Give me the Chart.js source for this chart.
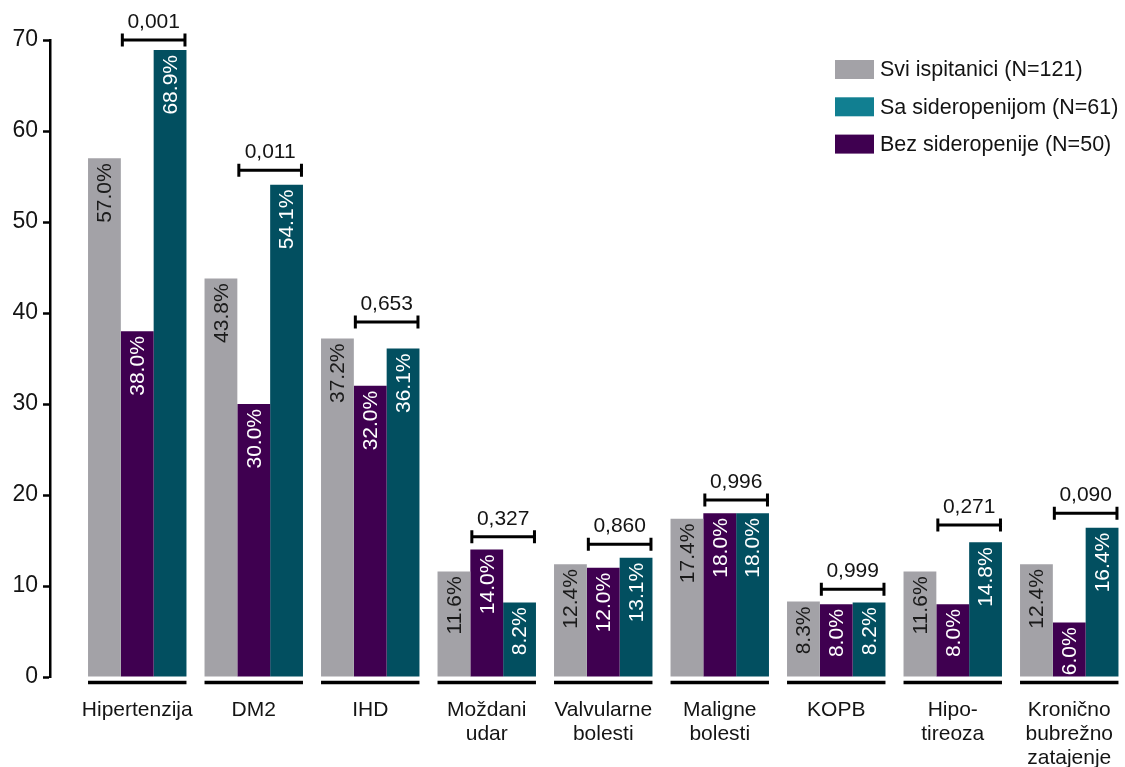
<!DOCTYPE html>
<html>
<head>
<meta charset="utf-8">
<script src="https://cdn.jsdelivr.net/npm/chart.js@4/dist/chart.umd.min.js"></script>
<style>
html,body{margin:0;padding:0;background:#fff;}
#wrap{width:1125px;height:767px;}
</style>
</head>
<body>
<div id="wrap"><canvas id="c" width="1125" height="767"></canvas></div>
<script>
const categories = [
  'Hipertenzija', 'DM2', 'IHD', ['Moždani', 'udar'], ['Valvularne', 'bolesti'],
  ['Maligne', 'bolesti'], 'KOPB', ['Hipo-', 'tireoza'], ['Kronično', 'bubrežno', 'zatajenje']
];
const sviValues = [57.0, 43.8, 37.2, 11.6, 12.4, 17.4, 8.3, 11.6, 12.4];
const bezValues = [38.0, 30.0, 32.0, 14.0, 12.0, 18.0, 8.0, 8.0, 6.0];
const saValues  = [68.9, 54.1, 36.1, 8.2, 13.1, 18.0, 8.2, 14.8, 16.4];
const pValues = ['0,001', '0,011', '0,653', '0,327', '0,860', '0,996', '0,999', '0,271', '0,090'];
const bracketLevels = [70.0, 55.7, 39.0, 15.4, 14.6, 19.45, 9.64, 16.7, 18.0];
const yTicks = [0, 10, 20, 30, 40, 50, 60, 70];

const FONT = '"Liberation Sans", Arial, Helvetica, sans-serif';
const TXT = '#141414';

const datasets = [
  { label: 'Svi ispitanici (N=121)', data: sviValues, backgroundColor: '#a3a2a7', legendColor: '#a3a2a7', labelColor: '#1a1a1a', legendRank: 0 },
  { label: 'Bez sideropenije (N=50)', data: bezValues, backgroundColor: '#3f0050', legendColor: '#3f0050', labelColor: '#ffffff', legendRank: 2 },
  { label: 'Sa sideropenijom (N=61)', data: saValues, backgroundColor: '#024f60', legendColor: '#117f91', labelColor: '#ffffff', legendRank: 1 }
];

const layoutFix = {
  id: 'layoutFix',
  afterLayout(chart) {
    const x = chart.scales.x;
    x.left = 79;
    x.right = 1127.5;
    x.width = x.right - x.left;
    x.configure();
  }
};

const decorations = {
  id: 'decorations',
  afterDatasetsDraw(chart) {
    const ctx = chart.ctx;
    const y = chart.scales.y;
    const metas = chart.data.datasets.map((d, i) => chart.getDatasetMeta(i));
    ctx.save();
    // value labels
    metas.forEach((meta, di) => {
      const ds = chart.data.datasets[di];
      meta.data.forEach((bar, i) => {
        const v = ds.data[i];
        ctx.save();
        ctx.translate(bar.x, bar.y + 5);
        ctx.rotate(-Math.PI / 2);
        ctx.font = '21px ' + FONT;
        ctx.fillStyle = ds.labelColor;
        ctx.textAlign = 'right';
        ctx.textBaseline = 'middle';
        ctx.fillText(v.toFixed(1) + '%', 0, 1);
        ctx.restore();
      });
    });
    // underlines and brackets
    categories.forEach((c, i) => {
      const first = metas[0].data[i];
      const mid = metas[1].data[i];
      const last = metas[2].data[i];
      const l = first.x - first.width / 2;
      const r = last.x + last.width / 2;
      ctx.strokeStyle = '#000';
      ctx.lineWidth = 3.5;
      ctx.beginPath();
      ctx.moveTo(l, 682.5);
      ctx.lineTo(r, 682.5);
      ctx.stroke();
      // bracket
      const bl = mid.x - mid.width / 2;
      const br = r;
      const by = y.getPixelForValue(bracketLevels[i]);
      ctx.lineWidth = 3;
      ctx.beginPath();
      ctx.moveTo(bl, by); ctx.lineTo(br, by);
      ctx.moveTo(bl + 1.5, by - 6.5); ctx.lineTo(bl + 1.5, by + 6.5);
      ctx.moveTo(br - 1.5, by - 6.5); ctx.lineTo(br - 1.5, by + 6.5);
      ctx.stroke();
      ctx.font = '21px ' + FONT;
      ctx.fillStyle = TXT;
      ctx.textAlign = 'center';
      ctx.textBaseline = 'alphabetic';
      ctx.fillText(pValues[i], (bl + br) / 2, by - 12);
    });
    // legend
    const order = chart.data.datasets.map((d, i) => i).sort((a, b) => chart.data.datasets[a].legendRank - chart.data.datasets[b].legendRank);
    order.forEach((di, row) => {
      const ds = chart.data.datasets[di];
      const cy = 69.5 + row * 37.3;
      ctx.fillStyle = ds.legendColor;
      ctx.fillRect(835, cy - 9.5, 39, 19);
      ctx.fillStyle = TXT;
      ctx.font = '21.5px ' + FONT;
      ctx.textAlign = 'left';
      ctx.textBaseline = 'middle';
      ctx.fillText(ds.label, 880, cy + 1);
    });
    ctx.restore();
  }
};

new Chart(document.getElementById('c'), {
  type: 'bar',
  data: { labels: categories, datasets: datasets },
  options: {
    responsive: false,
    animation: false,
    devicePixelRatio: 1,
    layout: { padding: { top: 40, left: 0, right: 0, bottom: 0 } },
    plugins: { legend: { display: false }, tooltip: { enabled: false } },
    datasets: { bar: { categoryPercentage: 0.845, barPercentage: 1.0, borderWidth: 0 } },
    scales: {
      x: {
        offset: true,
        grid: { display: false },
        border: { display: false },
        ticks: { autoSkip: false, maxRotation: 0, minRotation: 0, padding: 13, color: TXT, font: { family: FONT, size: 21, lineHeight: 1.15 } },
        afterFit(s) { s.height = 90; }
      },
      y: {
        min: 0, max: 70,
        afterBuildTicks(s) { s.ticks = yTicks.map(v => ({ value: v })); },
        grid: { display: true, drawOnChartArea: false, drawTicks: true, tickLength: 7, tickWidth: 2.5, tickColor: '#000' },
        border: { display: true, color: '#000', width: 2.5 },
        ticks: { padding: 5, color: TXT, font: { family: FONT, size: 23 } },
        afterFit(s) { s.width = 50; }
      }
    }
  },
  plugins: [layoutFix, decorations]
});
</script>
</body>
</html>
